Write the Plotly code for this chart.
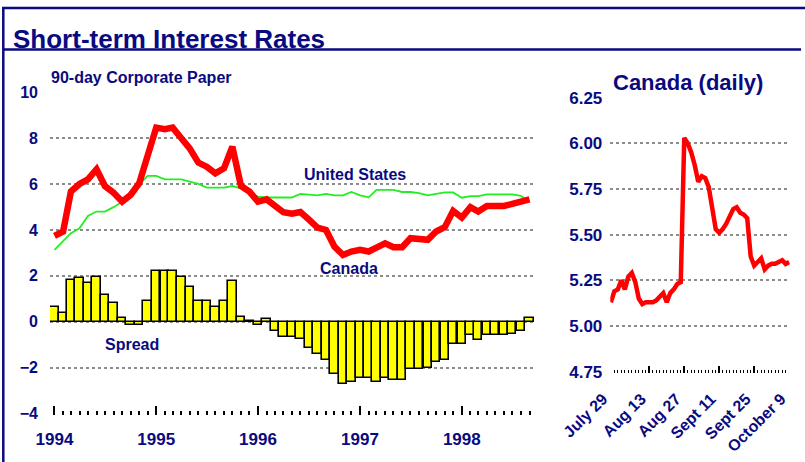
import plotly.graph_objects as go
import pandas as pd

W, H = 805, 462

# ---------------- data ----------------
months = pd.date_range("1994-01-01", periods=57, freq="MS")

canada = [3.74, 3.93, 5.67, 6.00, 6.20, 6.64, 5.91, 5.62, 5.23, 5.52,
          6.03, 7.33, 8.45, 8.38, 8.45, 7.99, 7.55, 6.93, 6.75, 6.46,
          6.68, 7.62, 5.91, 5.67, 5.23, 5.33, 5.07, 4.77, 4.71, 4.78,
          4.46, 4.10, 4.00, 3.28, 2.91, 3.06, 3.13, 3.06, 3.23, 3.42,
          3.25, 3.25, 3.64, 3.57, 3.57, 3.93, 4.12, 4.83, 4.54, 4.99,
          4.80, 5.04, 5.04, 5.04, 5.13, 5.22, 5.33]

us = [3.13, 3.49, 3.86, 4.07, 4.61, 4.80, 4.80, 4.99, 5.23, 5.59,
      5.96, 6.35, 6.35, 6.20, 6.20, 6.20, 6.10, 6.00, 5.84, 5.84,
      5.84, 5.91, 5.81, 5.60, 5.45, 5.41, 5.41, 5.41, 5.41, 5.57,
      5.55, 5.50, 5.57, 5.50, 5.50, 5.65, 5.50, 5.42, 5.74, 5.74,
      5.74, 5.65, 5.65, 5.60, 5.50, 5.57, 5.63, 5.63, 5.40, 5.47,
      5.47, 5.55, 5.55, 5.55, 5.55, 5.48, 5.22]

spread = [0.65, 0.39, 1.80, 1.90, 1.70, 1.96, 1.19, 0.83, 0.16, -0.12,
          -0.12, 0.92, 2.20, 2.20, 2.20, 1.96, 1.53, 0.92, 0.92, 0.65,
          0.92, 1.79, 0.22, 0.04, -0.12, 0.12, -0.38, -0.65, -0.65, -0.75,
          -1.12, -1.40, -1.66, -2.28, -2.72, -2.62, -2.44, -2.44, -2.62, -2.44,
          -2.54, -2.54, -2.07, -2.07, -1.99, -1.74, -1.66, -0.96, -0.96, -0.59,
          -0.78, -0.59, -0.59, -0.59, -0.51, -0.41, 0.18]

daily_dates = [d for d in pd.bdate_range("1998-07-29", "1998-10-09")
               if d != pd.Timestamp("1998-09-07")]
canada_daily = [5.13, 5.19, 5.20, 5.25, 5.20, 5.27, 5.29, 5.24, 5.15, 5.12,
                5.13, 5.13, 5.13, 5.14, 5.16, 5.18, 5.13, 5.18, 5.20, 5.23,
                5.24, 6.03, 6.00, 5.95, 5.88, 5.79, 5.82, 5.81, 5.76, 5.63,
                5.53, 5.51, 5.53, 5.56, 5.60, 5.64, 5.65, 5.62, 5.61, 5.59,
                5.38, 5.33, 5.35, 5.37, 5.31, 5.33, 5.34, 5.34, 5.35, 5.36,
                5.34, 5.35]

year_ticks = ["1994-01-01", "1995-01-01", "1996-01-01", "1997-01-01", "1998-01-01"]
year_labels = ["1994", "1995", "1996", "1997", "1998"]
left_yticks = [-4, -2, 0, 2, 4, 6, 8, 10]

daily_tick_dates = ["1998-07-29", "1998-08-13", "1998-08-27", "1998-09-11",
                    "1998-09-25", "1998-10-09"]
daily_tick_labels = ["July 29", "Aug 13", "Aug 27", "Sept 11", "Sept 25", "October 9"]
right_yticks = [4.75, 5.00, 5.25, 5.50, 5.75, 6.00, 6.25]

# ---------------- styling helpers ----------------
NAVY = "#0A0A80"
FONT = "Liberation Sans, Arial, sans-serif"
GRID = "#8C8C8C"


def fx(p):
    return p / W


def fy(p):
    return 1 - p / H


daily_idx = list(range(len(daily_dates)))
date_pos = {d.strftime("%Y-%m-%d"): i for i, d in enumerate(daily_dates)}
daily_tickvals = [date_pos[d] for d in daily_tick_dates]

fig = go.Figure()

fig.add_trace(go.Bar(
    x=months, y=spread,
    width=[30.0 * 86400000] * len(months),
    marker=dict(color="#FFFF00", line=dict(color="black", width=1.6)),
    xaxis="x", yaxis="y", hoverinfo="skip"))

fig.add_trace(go.Scatter(
    x=months, y=us, mode="lines",
    line=dict(color="#22EE22", width=1.8),
    xaxis="x", yaxis="y"))

fig.add_trace(go.Scatter(
    x=months, y=canada, mode="lines",
    line=dict(color="#FF0000", width=6.5),
    xaxis="x", yaxis="y"))

fig.add_trace(go.Scatter(
    x=daily_idx, y=canada_daily, mode="lines",
    line=dict(color="#FF0000", width=4.5),
    xaxis="x2", yaxis="y2"))

tickfont16 = dict(family=FONT, size=16, color=NAVY, weight="bold")

fig.update_layout(
    template="none",
    width=W, height=H, autosize=False,
    margin=dict(l=0, r=0, t=0, b=0, pad=0),
    paper_bgcolor="white", plot_bgcolor="white",
    showlegend=False, bargap=0,
    font=dict(family=FONT, color=NAVY),
    xaxis=dict(
        type="date", domain=[fx(50), fx(534)],
        range=["1993-12-16", "1998-09-17"],
        tickvals=year_ticks, ticktext=year_labels,
        ticks="inside", ticklen=9, tickwidth=1.5, tickcolor="black",
        minor=dict(dtick="M1", tick0="1994-01-01", ticks="inside",
                   ticklen=4, tickwidth=1.5, tickcolor="black", showgrid=False),
        showgrid=False, zeroline=False, showline=False, automargin=False,
        tickfont=dict(family=FONT, size=17, color=NAVY, weight="bold"),
        ticklabelstandoff=12, anchor="y"),
    yaxis=dict(
        domain=[fy(414.5), fy(92)], range=[-4.03, 10],
        tickvals=left_yticks,
        showgrid=True, griddash="dot", gridcolor=GRID, gridwidth=1.5,
        zeroline=False, showline=False, ticks="", automargin=False,
        tickfont=tickfont16, ticklabelstandoff=11, anchor="x"),
    xaxis2=dict(
        domain=[fx(610.3), fx(789.7)], range=[-0.15, 51.15],
        tickvals=daily_tickvals, ticktext=daily_tick_labels, tickangle=-45,
        ticks="inside", ticklen=7, tickwidth=1.5, tickcolor="black",
        minor=dict(dtick=1, tick0=0, ticks="inside", ticklen=3,
                   tickwidth=1.2, tickcolor="black", showgrid=False),
        showgrid=False, zeroline=False, showline=False, automargin=False,
        tickfont=dict(family=FONT, size=16, color=NAVY, weight="bold"),
        ticklabelstandoff=13, ticklabelshift=-8, anchor="y2"),
    yaxis2=dict(
        domain=[fy(372.5), fy(97.7)], range=[4.745, 6.25],
        tickvals=right_yticks, ticktext=[f"{v:.2f}" for v in right_yticks],
        showgrid=True, griddash="dot", gridcolor=GRID, gridwidth=1.5,
        zeroline=False, showline=False, ticks="", automargin=False,
        tickfont=dict(family=FONT, size=17, color=NAVY, weight="bold"),
        ticklabelstandoff=7, anchor="x2"),
)

# frame and title rule
line_style = dict(color=NAVY, width=2.5)
fig.add_shape(type="line", xref="paper", yref="paper",
              x0=fx(2), x1=1, y0=fy(8), y1=fy(8), line=line_style)
fig.add_shape(type="line", xref="paper", yref="paper",
              x0=fx(3.3), x1=fx(3.3), y0=fy(8), y1=0, line=line_style)
fig.add_shape(type="line", xref="paper", yref="paper",
              x0=fx(3), x1=fx(801), y0=fy(49.5), y1=fy(49.5), line=line_style)


def label(text, x, y, size, xanchor="center"):
    fig.add_annotation(text=f"<b>{text}</b>", xref="paper", yref="paper",
                       x=fx(x), y=fy(y), xanchor=xanchor, yanchor="middle",
                       showarrow=False,
                       font=dict(family=FONT, size=size, color=NAVY))


label("Short-term Interest Rates", 11, 38.5, 26, xanchor="left")
label("90-day Corporate Paper", 49, 78, 16, xanchor="left")
label("United States", 355, 174, 16)
label("Canada", 349, 268, 16)
label("Spread", 132, 344, 16)
label("Canada (daily)", 611, 82, 22, xanchor="left")

fig.write_html(
    "out.html",
    config={"displayModeBar": False},
    post_script="document.body.style.margin='0';document.body.style.padding='0';"
                "document.body.style.overflow='hidden';",
)
